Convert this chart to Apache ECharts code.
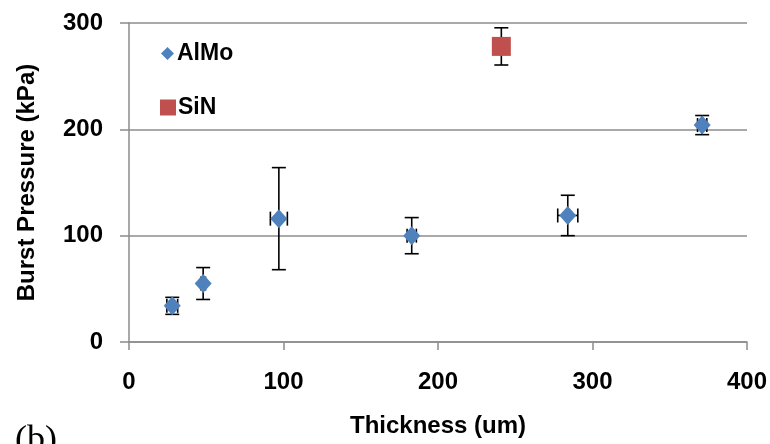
<!DOCTYPE html>
<html>
<head>
<meta charset="utf-8">
<script src="https://cdn.jsdelivr.net/npm/echarts@6/dist/echarts.min.js"></script>
<style>html,body{margin:0;padding:0;background:#fff}#c{width:770px;height:444px}</style>
</head>
<body>
<div id="c"></div>
<script>
// Data
var alMoX = [28, 48, 97, 183, 284, 371];
var alMoY = [34, 55, 116, 100, 119, 204];
var alMoYErr = [8, 15, 48, 17, 19, 9];
var alMoXErr = [3.5, 1.5, 5.5, 3, 6.5, 3];
var sinX = [241];
var sinY = [278];
var sinYErr = [17.5];
var sinXErr = [0];
var xTicks = [0, 100, 200, 300, 400];
var yTicks = [0, 100, 200, 300];

var FONT = 'Liberation Sans';
var BLUE = '#4F81BD', RED = '#C0504D';

function errData(xs, ys, ye, xe) {
  return xs.map(function (x, i) { return [x, ys[i], ye[i], xe[i]]; });
}
function errRender(params, api) {
  var x = api.value(0), y = api.value(1), ey = api.value(2), ex = api.value(3);
  var c = api.coord([x, y]);
  var top = api.coord([x, y + ey]);
  var bot = api.coord([x, y - ey]);
  var left = api.coord([x - ex, y]);
  var right = api.coord([x + ex, y]);
  var cap = 7;
  var st = { stroke: '#000', lineWidth: 1.6 };
  var ch = [
    { type: 'line', shape: { x1: c[0], y1: top[1], x2: c[0], y2: bot[1] }, style: st },
    { type: 'line', shape: { x1: c[0] - cap, y1: top[1], x2: c[0] + cap, y2: top[1] }, style: st },
    { type: 'line', shape: { x1: c[0] - cap, y1: bot[1], x2: c[0] + cap, y2: bot[1] }, style: st }
  ];
  if (ex > 0) {
    ch.push({ type: 'line', shape: { x1: left[0], y1: c[1], x2: right[0], y2: c[1] }, style: st });
    ch.push({ type: 'line', shape: { x1: left[0], y1: c[1] - cap, x2: left[0], y2: c[1] + cap }, style: st });
    ch.push({ type: 'line', shape: { x1: right[0], y1: c[1] - cap, x2: right[0], y2: c[1] + cap }, style: st });
  }
  return { type: 'group', children: ch };
}

var chart = echarts.init(document.getElementById('c'), null, { renderer: 'canvas' });
chart.setOption({
  animation: false,
  backgroundColor: '#fff',
  textStyle: { fontFamily: FONT },
  grid: { left: 129, right: 23, top: 23, bottom: 102, containLabel: false },
  legend: [
    {
      left: 156, top: 37, orient: 'vertical',
      itemWidth: 13, itemHeight: 13, itemGap: 6,
      data: [{ name: 'AlMo', icon: 'diamond' }],
      textStyle: { fontFamily: FONT, fontSize: 23, fontWeight: 'bold', color: '#000', padding: [0, 0, 0, -2] }
    },
    {
      left: 155, top: 91, orient: 'vertical',
      itemWidth: 16, itemHeight: 16, itemGap: 6,
      data: [{ name: 'SiN', icon: 'rect' }],
      textStyle: { fontFamily: FONT, fontSize: 23, fontWeight: 'bold', color: '#000', padding: [0, 0, 0, -3] }
    }
  ],
  xAxis: {
    type: 'value', min: xTicks[0], max: xTicks[xTicks.length - 1], interval: 100,
    name: 'Thickness (um)', nameLocation: 'middle', nameGap: 72,
    nameTextStyle: { fontFamily: FONT, fontSize: 24, fontWeight: 'bold', color: '#000' },
    axisLine: { show: true, lineStyle: { color: '#8c8c8c', width: 1.5 } },
    axisTick: { show: true, length: 8, lineStyle: { color: '#8c8c8c', width: 1.5 } },
    axisLabel: { margin: 28, fontFamily: FONT, fontSize: 24, fontWeight: 'bold', color: '#000' },
    splitLine: { show: false }
  },
  yAxis: {
    type: 'value', min: yTicks[0], max: yTicks[yTicks.length - 1], interval: 100,
    name: 'Burst Pressure (kPa)', nameLocation: 'middle', nameGap: 90,
    nameTextStyle: { fontFamily: FONT, fontSize: 24, fontWeight: 'bold', color: '#000' },
    axisLine: { show: true, lineStyle: { color: '#8c8c8c', width: 1.5 } },
    axisTick: { show: true, length: 9, lineStyle: { color: '#8c8c8c', width: 1.5 } },
    axisLabel: { margin: 26, fontFamily: FONT, fontSize: 24, fontWeight: 'bold', color: '#000' },
    splitLine: { show: true, lineStyle: { color: '#8c8c8c', width: 1.5 } }
  },
  graphic: [
    { type: 'text', left: 15, top: 423, style: { text: '(b)', font: '36px "Liberation Serif"', fill: '#000' } }
  ],
  series: [
    {
      name: 'AlMo err', type: 'custom', renderItem: errRender, z: 2,
      data: errData(alMoX, alMoY, alMoYErr, alMoXErr), encode: { x: 0, y: 1 }, silent: true
    },
    {
      name: 'SiN err', type: 'custom', renderItem: errRender, z: 2,
      data: errData(sinX, sinY, sinYErr, sinXErr), encode: { x: 0, y: 1 }, silent: true
    },
    {
      name: 'AlMo', type: 'scatter', symbol: 'diamond', symbolSize: [17, 19], z: 5,
      itemStyle: { color: BLUE, opacity: 1 },
      data: alMoX.map(function (x, i) { return [x, alMoY[i]]; })
    },
    {
      name: 'SiN', type: 'scatter', symbol: 'rect', symbolSize: 19, z: 5,
      itemStyle: { color: RED, opacity: 1 },
      data: sinX.map(function (x, i) { return [x, sinY[i]]; })
    }
  ]
});
</script>
</body>
</html>
